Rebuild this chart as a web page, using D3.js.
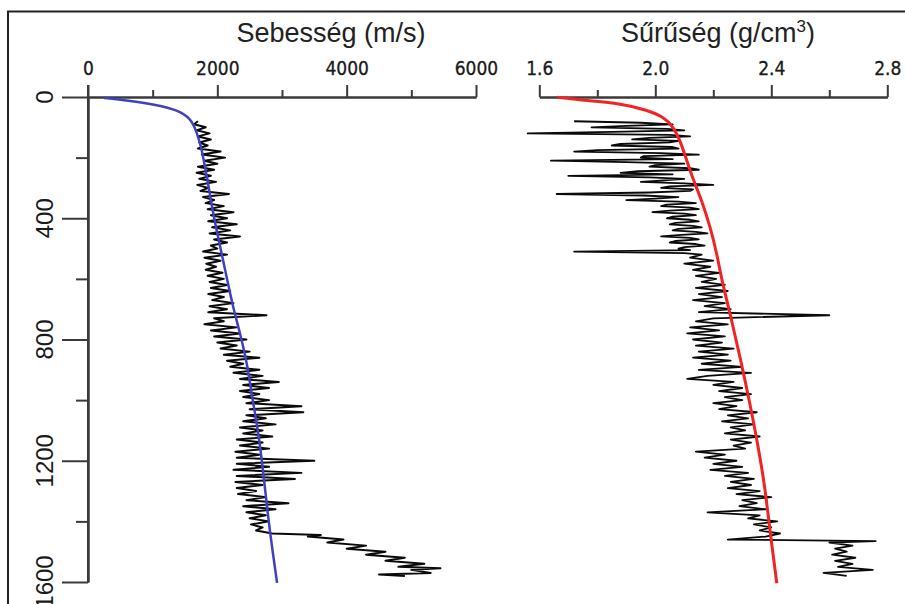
<!DOCTYPE html>
<html>
<head>
<meta charset="utf-8">
<script src="https://cdn.jsdelivr.net/npm/d3@7"></script>
<style>
  html, body { margin: 0; padding: 0; background: #fff; }
  svg { display: block; }
</style>
</head>
<body>
<svg id="chart" width="905" height="604"></svg>
<script>
// ---------- data ----------
const depthTicks = [0, 400, 800, 1200, 1600];
const depthMinorTicks = [200, 600, 1000, 1400];
const velTicks = [0, 2000, 4000, 6000];
const velMinorTicks = [1000, 3000, 5000];
const denTicks = [1.6, 2.0, 2.4, 2.8];
const denMinorTicks = [1.8, 2.2, 2.6];
const denTickLabels = ["1.6", "2.0", "2.4", "2.8"];

// velocity trend (blue)
const velTrendDepth = [3, 10, 20, 30, 40, 50, 65, 80, 100, 130, 160, 231, 300, 383, 460, 538, 615, 693, 779, 878, 990, 1099, 1231, 1386, 1485, 1603];
const velTrendValue = [250, 560, 880, 1130, 1310, 1430, 1540, 1600, 1650, 1700, 1745, 1810, 1870, 1934, 2010, 2088, 2165, 2243, 2351, 2460, 2537, 2630, 2707, 2785, 2846, 2924];

// density trend (red)
const denTrendDepth = [1, 12, 21, 43, 65, 98, 142, 208, 274, 340, 428, 515, 604, 714, 857, 1009, 1154, 1286, 1428, 1604];
const denTrendValue = [1.662, 1.763, 1.878, 1.970, 2.028, 2.062, 2.085, 2.108, 2.131, 2.160, 2.189, 2.212, 2.229, 2.258, 2.292, 2.326, 2.355, 2.378, 2.395, 2.419];

// velocity log (black)
const velLogDepth = [80,90,100,110,120,130,140,150,160,170,180,190,200,210,220,230,240,250,260,270,280,290,300,310,320,330,340,350,360,370,380,390,400,410,420,430,440,450,460,470,480,490,500,510,520,530,540,550,560,570,580,590,600,610,620,630,640,650,660,670,680,690,700,710,720,730,740,750,760,770,780,790,800,810,820,830,840,850,860,870,880,890,900,910,920,930,940,950,960,970,980,990,1000,1010,1020,1030,1040,1050,1060,1070,1080,1090,1100,1110,1120,1130,1140,1150,1160,1170,1180,1190,1200,1210,1220,1230,1240,1250,1260,1270,1280,1290,1300,1310,1320,1330,1340,1350,1360,1370,1380,1390,1400,1410,1420,1430,1440,1445,1450,1460,1470,1480,1490,1500,1510,1520,1530,1540,1550,1555,1560,1570,1575,1580];
const velLogValue = [1700,1640,1820,1680,1880,1700,1900,1720,1850,1700,
  2050,1760,2120,1800,2000,1700,1950,1680,1900,1720,
  1980,1690,1860,1740,2180,1780,1950,1820,2100,1850,
  2250,1900,2150,1860,2300,1920,2200,1880,2350,1950,
  2150,1900,2000,1780,2150,1800,2050,1830,1980,1820,
  2080,1850,2100,1880,2150,1900,2200,1860,2100,1920,
  2250,1880,2150,1860,2760,1950,2100,1800,2300,1900,
  2350,1950,2450,2000,2300,2050,2500,2100,2650,2150,
  2400,2200,2650,2250,2700,2350,2950,2400,2800,2350,
  2650,2400,2800,2450,3300,2500,3330,2450,2750,2400,
  2900,2350,2700,2400,2850,2300,2700,2350,2800,2280,
  2650,2300,3500,2300,2800,2250,3300,2300,3200,2280,
  2700,2300,2600,2320,2750,2450,3100,2400,2900,2450,
  2750,2500,2800,2520,2700,2600,2850,
  3600,3400,3950,3700,4300,4000,4600,4300,4900,4600,5200,4800,5450,5000,5300,4500,4900];

// density log (black)
const denLogDepth = [80,85,90,95,100,105,110,115,120,125,130,135,140,145,150,155,160,165,170,175,180,185,190,195,200,205,210,215,220,225,230,235,240,245,250,255,260,265,270,275,280,285,290,295,300,305,310,315,320,325,330,335,340,345,350,355,360,365,370,375,380,385,390,395,400,405,410,415,420,425,430,435,440,445,450,455,460,465,470,475,480,485,490,495,500,505,510,515,
  520,530,540,550,560,570,580,590,600,610,620,630,640,650,660,670,680,690,700,710,720,730,740,750,760,770,780,790,800,810,820,830,840,850,860,870,880,890,900,910,920,930,940,950,960,970,980,990,1000,1010,1020,1030,1040,1050,1060,1070,1080,1090,1100,1110,1120,1130,1140,1150,1160,1170,1180,1190,1200,1210,1220,1230,1240,1250,1260,1270,1280,1290,1300,1310,1320,1330,1340,1350,1360,1370,1380,1390,1400,1410,1420,1430,1440,1450,1460,1465,1470,1480,1490,1500,1510,1520,1530,1540,1550,1560,1570,1580];
const denLogValue = [1.72,1.95,2.06,1.90,1.78,2.04,2.10,1.85,1.56,2.05,2.12,1.98,1.92,2.08,2.05,1.88,1.85,2.06,2.08,1.80,
  1.72,2.02,2.15,1.96,1.95,2.06,1.64,1.90,2.10,2.00,1.98,2.12,2.15,1.94,1.88,2.06,1.70,1.98,2.10,2.03,
  1.95,2.10,2.20,2.05,2.02,2.13,2.12,1.98,1.66,1.96,2.08,2.00,1.90,2.08,2.14,2.04,2.02,2.12,2.15,2.05,
  1.99,2.10,2.14,2.06,2.04,2.12,2.15,2.07,2.05,2.13,2.16,2.08,2.06,2.14,2.18,2.09,2.02,2.12,2.15,2.07,
  2.05,2.14,2.17,2.10,2.08,2.12,1.72,2.10,
  2.16,2.12,2.20,2.10,2.19,2.13,
  2.22,2.14,2.21,2.16,2.24,2.14,2.25,2.15,2.23,2.13,
  2.24,2.17,2.26,2.15,2.60,2.20,2.14,2.25,2.12,2.22,
  2.11,2.24,2.13,2.23,2.14,2.27,2.15,2.25,2.13,2.26,
  2.16,2.30,2.15,2.33,2.18,2.11,2.27,2.20,2.30,2.22,
  2.33,2.24,2.30,2.20,2.28,2.22,2.35,2.25,2.32,2.23,
  2.34,2.26,2.31,2.24,2.36,2.26,2.33,2.27,2.31,2.14,
  2.24,2.17,2.28,2.20,2.30,2.19,2.32,2.24,2.34,2.26,
  2.33,2.25,2.36,2.28,2.40,2.30,2.35,2.29,2.38,2.18,
  2.36,2.32,2.42,2.34,2.40,2.36,2.43,2.38,2.25,
  2.76,2.60,2.68,2.62,2.66,2.61,2.69,2.62,2.68,2.63,2.75,2.58,2.66];

// ---------- drawing ----------
const svg = d3.select("#chart");
const axisColor = "#3a3a3a";

// frame
svg.append("path")
  .attr("d", "M8,620 L8,11.5 L910,11.5")
  .attr("fill", "none").attr("stroke", "#222").attr("stroke-width", 2);

const y = d3.scaleLinear().domain([0, 1600]).range([97, 582]);
const xv = d3.scaleLinear().domain([0, 6000]).range([88, 476]);
const xd = d3.scaleLinear().domain([1.6, 2.8]).range([539.3, 887.3]);

function styleAxis(g) {
  g.select(".domain").attr("stroke", axisColor).attr("stroke-width", 2);
  g.selectAll(".tick line").attr("stroke", axisColor).attr("stroke-width", 2);
}

const tickFont = "'DejaVu Sans Condensed', 'DejaVu Sans', sans-serif";

// left top axis: minor then major
svg.append("g").attr("transform", "translate(0,97)")
  .call(d3.axisTop(xv).tickValues(velMinorTicks).tickSize(7).tickSizeOuter(0).tickFormat(""))
  .call(styleAxis);
svg.append("g").attr("transform", "translate(0,97)")
  .call(d3.axisTop(xv).tickValues(velTicks).tickSize(12).tickSizeOuter(0).tickPadding(10).tickFormat(d3.format("d")))
  .call(styleAxis)
  .call(g => g.selectAll(".tick text").attr("font-family", tickFont).attr("font-size", 19)
    .attr("font-stretch", "condensed").attr("fill", "#1a1a1a").attr("stroke", "#1a1a1a").attr("stroke-width", 0.3));

// right top axis
svg.append("g").attr("transform", "translate(0,97)")
  .call(d3.axisTop(xd).tickValues(denMinorTicks).tickSize(7).tickSizeOuter(0).tickFormat(""))
  .call(styleAxis);
svg.append("g").attr("transform", "translate(0,97)")
  .call(d3.axisTop(xd).tickValues(denTicks).tickSize(12).tickSizeOuter(0).tickPadding(10)
    .tickFormat((d, i) => denTickLabels[i]))
  .call(styleAxis)
  .call(g => g.selectAll(".tick text").attr("font-family", tickFont).attr("font-size", 19)
    .attr("font-stretch", "condensed").attr("fill", "#1a1a1a").attr("stroke", "#1a1a1a").attr("stroke-width", 0.3));

// left y axis
svg.append("g").attr("transform", "translate(88,0)")
  .call(d3.axisLeft(y).tickValues(depthMinorTicks).tickSize(12).tickSizeOuter(0).tickFormat(""))
  .call(styleAxis);
svg.append("g").attr("transform", "translate(88,0)")
  .call(d3.axisLeft(y).tickValues(depthTicks).tickSize(26).tickSizeOuter(0).tickFormat(""))
  .call(styleAxis);
// extend y-axis line above the x-axis
svg.append("line").attr("x1", 88).attr("x2", 88).attr("y1", 85).attr("y2", y(1600))
  .attr("stroke", axisColor).attr("stroke-width", 2);

svg.append("g").selectAll("text").data(depthTicks).join("text")
  .attr("transform", d => `translate(53,${y(d)}) rotate(-90)`)
  .attr("text-anchor", "middle")
  .attr("font-family", "'Liberation Sans', Arial, sans-serif")
  .attr("font-size", 24)
  .attr("fill", "#1a1a1a")
  .text(d => d);

// titles
svg.append("text").attr("x", 331).attr("y", 42).attr("text-anchor", "middle")
  .attr("font-family", "'Liberation Sans', Arial, sans-serif").attr("font-size", 27).attr("fill", "#222")
  .text("Sebesség (m/s)");
const t2 = svg.append("text").attr("x", 718).attr("y", 42).attr("text-anchor", "middle")
  .attr("font-family", "'Liberation Sans', Arial, sans-serif").attr("font-size", 27).attr("fill", "#222");
t2.append("tspan").text("Sűrűség (g/cm");
t2.append("tspan").attr("font-size", 17).attr("dy", -10).text("3");
t2.append("tspan").attr("dy", 10).text(")");

// logs
const velLog = velLogDepth.map((d, i) => [velLogValue[i], d]);
const denLog = denLogDepth.map((d, i) => [denLogValue[i], d]);
const logLine = (xs) => d3.line().x(p => xs(p[0])).y(p => y(p[1]));

svg.append("path").datum(velLog).attr("d", logLine(xv))
  .attr("fill", "none").attr("stroke", "#0a0a0a").attr("stroke-width", 2).attr("stroke-linejoin", "round");
svg.append("path").datum(denLog).attr("d", logLine(xd))
  .attr("fill", "none").attr("stroke", "#0a0a0a").attr("stroke-width", 1.8).attr("stroke-linejoin", "round");

// trends
const velTrend = velTrendDepth.map((d, i) => [velTrendValue[i], d]);
const denTrend = denTrendDepth.map((d, i) => [denTrendValue[i], d]);
const smooth = (xs) => d3.line().x(p => xs(p[0])).y(p => y(p[1])).curve(d3.curveBasis);

svg.append("path").datum(velTrend).attr("d", smooth(xv))
  .attr("fill", "none").attr("stroke", "#4040c0").attr("stroke-width", 2.5);
svg.append("path").datum(denTrend).attr("d", smooth(xd))
  .attr("fill", "none").attr("stroke", "#f02424").attr("stroke-width", 3);
</script>
</body>
</html>
